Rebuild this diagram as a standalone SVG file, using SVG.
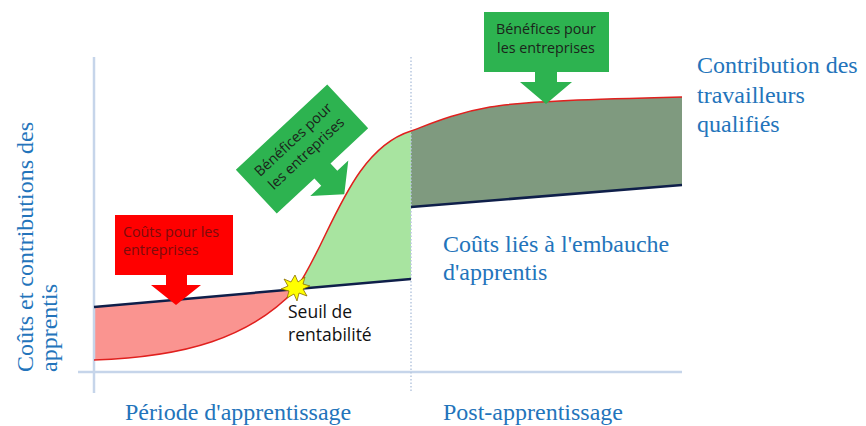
<svg xmlns="http://www.w3.org/2000/svg" width="866" height="426" viewBox="0 0 866 426">
<style>
.blue{font-family:"Liberation Serif","Times New Roman",serif;font-size:24px;fill:#2374bb}
.call{font-family:"Open Sans","Liberation Sans",sans-serif;font-size:14.3px}
.axis{stroke:#c6d5ea;stroke-width:2.5;fill:none}
.cost{stroke:#0f1f4a;stroke-width:2.5;fill:none}
.contrib{stroke:#e0201e;stroke-width:1.5;fill:none}
.green{fill:#2db350}
</style>
<rect width="866" height="426" fill="#ffffff"/>
<g id="chart">
  <path d="M94,307 L296,289 C250,338 185,357 94,360 Z" fill="#fa9490"/>
  <path d="M296,289 C330,240 350,150 411,131 L411,279 Z" fill="#a8e4a0"/>
  <path d="M411,131 C430,124 455,113 490,107 S600,99 682,97 L682,185 L411,207 Z" fill="#7f9a7f"/>
  <line class="axis" x1="94" y1="57" x2="94" y2="393"/>
  <line class="axis" x1="78" y1="372" x2="682" y2="372"/>
  <line x1="411" y1="57" x2="411" y2="393" stroke="#b8c8e0" stroke-width="1.5" stroke-dasharray="1.5 2"/>
</g>
<g id="connectors">
  <path class="contrib" d="M94,360 C185,357 250,338 296,289 C330,240 350,150 411,131 C430,124 455,113 490,107 S600,99 682,97"/>
  <line class="cost" x1="94" y1="307" x2="411" y2="279"/>
  <line class="cost" x1="411" y1="207" x2="682" y2="185"/>
</g>
<g id="cout-callout">
  <path d="M115,215 H233 V275 H187 V285 H201 L176,305 L151,285 H166 V275 H115 Z" fill="#ff0000"/>
  <text class="call" x="123" y="237" fill="#7a0c0c">Coûts pour les</text>
  <text class="call" x="123" y="255" fill="#7a0c0c">entreprises</text>
</g>
<g id="benefice-callout-1" transform="translate(302,149) rotate(-43)">
  <path class="green" d="M-62.5,-30 H62.5 V30 H11 V40 H26 L0,62 L-26,40 H-11 V30 H-62.5 Z"/>
  <text class="call" x="0" y="-8" text-anchor="middle" fill="#1b241b">Bénéfices pour</text>
  <text class="call" x="0" y="11" text-anchor="middle" fill="#1b241b">les entreprises</text>
</g>
<g id="benefice-callout-2">
  <path class="green" d="M484,12 H609 V72 H557 V82 H572 L546,104 L520,82 H535 V72 H484 Z"/>
  <text class="call" x="546" y="34" text-anchor="middle" fill="#1b241b">Bénéfices pour</text>
  <text class="call" x="546" y="53" text-anchor="middle" fill="#1b241b">les entreprises</text>
</g>
<g id="seuil">
  <polygon points="295,275 298,282 305,277 303,284 310,286 303,289 307,296 299,293 297,301 294,294 287,298 289,291 281,289 288,286 284,279 291,282" fill="#ffff00" stroke="#8a6d00" stroke-width="0.8"/>
  <text x="288" y="318" font-family="Open Sans, Liberation Sans, sans-serif" font-size="17.5" fill="#111">Seuil de</text>
  <text x="288" y="341" font-family="Open Sans, Liberation Sans, sans-serif" font-size="17.5" fill="#111">rentabilité</text>
</g>
<g id="label-contribution">
  <text class="blue" x="697" y="73">Contribution des</text>
  <text class="blue" x="697" y="103">travailleurs</text>
  <text class="blue" x="697" y="132">qualifiés</text>
</g>
<g id="label-couts">
  <text class="blue" x="443" y="252">Coûts liés à l'embauche</text>
  <text class="blue" x="443" y="280">d'apprentis</text>
</g>
<g id="label-periode">
  <text class="blue" x="125" y="420">Période d'apprentissage</text>
</g>
<g id="label-post">
  <text class="blue" x="443" y="420">Post-apprentissage</text>
</g>
<g id="label-yaxis">
  <text class="blue" transform="translate(33,372) rotate(-90)">Coûts et contributions des</text>
  <text class="blue" transform="translate(57,372) rotate(-90)">apprentis</text>
</g>
</svg>
